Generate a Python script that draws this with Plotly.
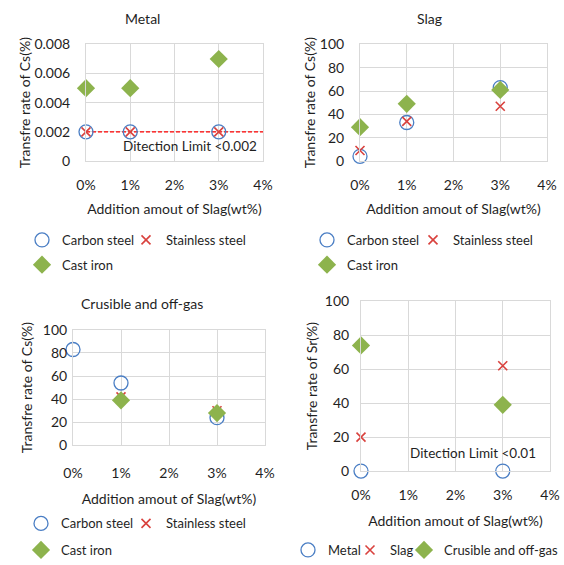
import plotly.graph_objects as go

W, H = 564, 565
FONT = "Lato"
BLUE = "#4A7EC4"
RED = "#D9423E"
GREEN = "#8DB34D"
GRID = "#D9D9D9"
TXT = "#1F1F1F"

x_pct = [0, 1, 3]
x_pct_sr = [0, 3]
x_ticks = [0, 1, 2, 3, 4]
x_ticktext = ["0%", "1%", "2%", "3%", "4%"]

# Metal (Cs)
metal_carbon = [0.002, 0.002, 0.002]
metal_stainless = [0.002, 0.002, 0.002]
metal_cast = [0.005, 0.005, 0.007]
metal_limit = 0.002
metal_yticks = [0, 0.002, 0.004, 0.006, 0.008]
metal_yticktext = ["0", "0.002", "0.004", "0.006", "0.008"]

# Slag (Cs)
slag_carbon = [4, 33, 63]
slag_stainless = [9, 34, 47]
slag_cast = [29, 49, 61]

# Crusible and off-gas (Cs)
cru_carbon = [83, 54, 24]
cru_stainless = [None, 42, 30]
cru_cast = [None, 39, 28]

# Sr
sr_metal = [0, 0]
sr_slag = [20, 62]
sr_crusible = [74, 39]

pct_ticks = [0, 20, 40, 60, 80, 100]


def px_x(p):
    return p / W


def px_y(p):
    return 1 - p / H


fig = go.Figure()

circle = dict(symbol="circle-open", size=14, color=BLUE, line=dict(width=1.3, color=BLUE))
cross = dict(symbol="x-thin-open", size=9, color=RED, line=dict(width=1.6, color=RED))
diamond = dict(symbol="diamond", size=14, color=GREEN, line=dict(width=0))

panels = [
    ("x", "y", [(x_pct, metal_carbon, "Carbon steel", circle, "legend"),
                (x_pct, metal_stainless, "Stainless steel", cross, "legend2"),
                (x_pct, metal_cast, "Cast iron", diamond, "legend3")]),
    ("x2", "y2", [(x_pct, slag_carbon, "Carbon steel", circle, "legend4"),
                  (x_pct, slag_stainless, "Stainless steel", cross, "legend5"),
                  (x_pct, slag_cast, "Cast iron", diamond, "legend6")]),
    ("x3", "y3", [(x_pct, cru_carbon, "Carbon steel", circle, "legend7"),
                  (x_pct, cru_stainless, "Stainless steel", cross, "legend8"),
                  (x_pct, cru_cast, "Cast iron", diamond, "legend9")]),
    ("x4", "y4", [(x_pct_sr, sr_metal, "Metal", circle, "legend10"),
                  (x_pct_sr, sr_slag, "Slag", cross, "legend11"),
                  (x_pct_sr, sr_crusible, "Crusible and off-gas", diamond, "legend12")]),
]

# detection limit line (Metal panel)
fig.add_trace(go.Scatter(x=[x_ticks[0], x_ticks[-1]], y=[metal_limit, metal_limit], mode="lines",
                         line=dict(color="#FF0000", width=1.2, dash="4px,2px"), showlegend=False,
                         xaxis="x", yaxis="y", hoverinfo="skip", cliponaxis=False))

for xa, ya, series in panels:
    for xs, ys, name, mk, leg in series:
        fig.add_trace(go.Scatter(x=xs, y=ys, name=name, mode="markers", marker=mk,
                                 xaxis=xa, yaxis=ya, legend=leg, cliponaxis=False))

# domains in pixels: (x0, x1, ytop, ybottom)
doms = {
    "1": (86, 263, 45, 163),
    "2": (360, 547, 45, 163),
    "3": (73, 265, 334, 451),
    "4": (361, 550, 305, 477),
}

axis_font = dict(family=FONT, size=14, color=TXT)
tick_font = dict(family=FONT, size=14, color=TXT)

layout = dict(
    width=W, height=H, margin=dict(l=0, r=0, t=0, b=0),
    paper_bgcolor="white", plot_bgcolor="white",
    font=dict(family=FONT, size=14, color=TXT),
)

ystandoff = {"1": 12, "2": 12, "3": 2, "4": 8}
xstandoff = {"1": 11, "2": 11, "3": 15, "4": 11}
ytitle_standoff = {"1": 0, "2": 0, "3": 6, "4": 3}
xtitle_standoff = {"1": 12, "2": 12, "3": 13, "4": 14}

for k, (x0, x1, yt, yb) in doms.items():
    suf = "" if k == "1" else k
    layout["xaxis" + suf] = dict(
        domain=[px_x(x0), px_x(x1)], anchor="y" + suf, range=[0, 4],
        tickvals=x_ticks, ticktext=x_ticktext, showgrid=True, gridcolor=GRID, gridwidth=1,
        showline=True, linecolor=GRID, mirror=True, zeroline=False, ticks="",
        tickfont=tick_font, ticklabelstandoff=xstandoff[k],
        title=dict(text="Addition amout of Slag(wt%)", font=axis_font, standoff=xtitle_standoff[k]),
        automargin=False, fixedrange=True,
    )
    if k == "1":
        yrange = [0, 0.008]
        tv, tt = metal_yticks, metal_yticktext
        ytitle = "Transfre rate of Cs(%)"
    else:
        yrange = [0, 100]
        tv, tt = pct_ticks, [str(v) for v in pct_ticks]
        ytitle = "Transfre rate of Sr(%)" if k == "4" else "Transfre rate of Cs(%)"
    layout["yaxis" + suf] = dict(
        domain=[px_y(yb), px_y(yt)], anchor="x" + suf, range=yrange,
        tickvals=tv, ticktext=tt, showgrid=True, gridcolor=GRID, gridwidth=1,
        showline=True, linecolor=GRID, mirror=True, zeroline=False, ticks="",
        tickfont=tick_font, ticklabelstandoff=ystandoff[k],
        title=dict(text=ytitle, font=axis_font, standoff=ytitle_standoff[k]),
        automargin=False, fixedrange=True,
    )

# legends: (legend key, symbol center px x, px y)
leg_pos = [
    ("legend", 42, 243), ("legend2", 146, 243), ("legend3", 42, 268),
    ("legend4", 327, 243), ("legend5", 433, 243), ("legend6", 327, 268),
    ("legend7", 41, 530), ("legend8", 146, 530), ("legend9", 41, 557),
    ("legend10", 308, 557), ("legend11", 370, 557), ("legend12", 424, 557),
]
for key, cx, cy in leg_pos:
    layout[key] = dict(x=px_x(cx - 20), y=px_y(cy), xanchor="left", yanchor="middle",
                       bgcolor="rgba(0,0,0,0)", borderwidth=0,
                       font=dict(family=FONT, size=13, color=TXT),
                       tracegroupgap=0, itemwidth=30)

title_font = dict(family=FONT, size=14, color=TXT)
annotations = [
    dict(text="Metal", x=px_x(142), y=px_y(19), xref="paper", yref="paper",
         xanchor="center", yanchor="middle", showarrow=False, font=title_font),
    dict(text="Slag", x=px_x(429), y=px_y(19), xref="paper", yref="paper",
         xanchor="center", yanchor="middle", showarrow=False, font=title_font),
    dict(text="Crusible and off-gas", x=px_x(142), y=px_y(307), xref="paper", yref="paper",
         xanchor="center", yanchor="middle", showarrow=False, font=title_font),
    dict(text="Ditection Limit <0.002", x=2.35, y=0.00102, xref="x", yref="y",
         xanchor="center", yanchor="middle", showarrow=False,
         font=dict(family=FONT, size=13.5, color=TXT)),
    dict(text="Ditection Limit <0.01", x=2.38, y=10.5, xref="x4", yref="y4",
         xanchor="center", yanchor="middle", showarrow=False,
         font=dict(family=FONT, size=13.5, color=TXT)),
]
layout["annotations"] = annotations

fig.update_layout(**layout)
fig.write_html("out.html")
